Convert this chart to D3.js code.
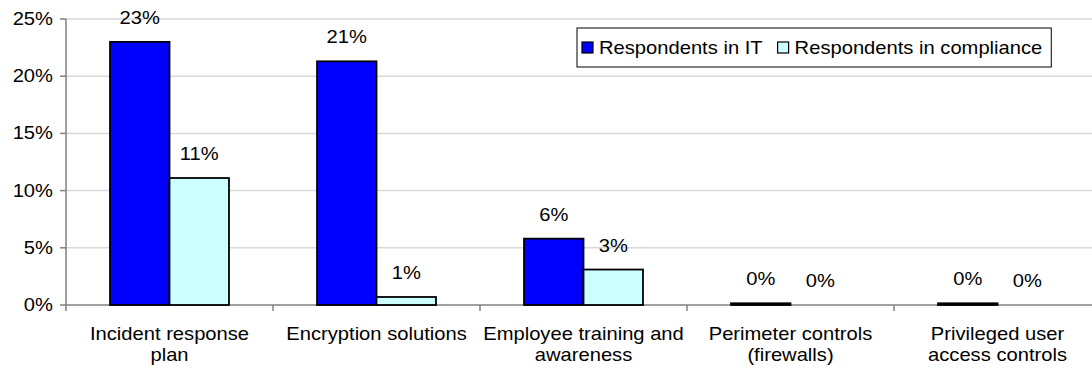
<!DOCTYPE html>
<html>
<head>
<meta charset="utf-8">
<script src="https://cdn.jsdelivr.net/npm/d3@7"></script>
<style>
  html, body { margin: 0; padding: 0; background: #fff; }
  svg { display: block; }
  text { font-family: "Liberation Sans", Arial, sans-serif; fill: #000; }
</style>
</head>
<body>
<svg id="chart" width="1092" height="373"></svg>
<script>
// Chart data
const categories = [
  "Incident response\nplan",
  "Encryption solutions",
  "Employee training and\nawareness",
  "Perimeter controls\n(firewalls)",
  "Privileged user\naccess controls"
];
const seriesNames = ["Respondents in IT", "Respondents in compliance"];
const itValues = [23.0, 21.3, 5.8, 0.15, 0.15];
const complianceValues = [11.1, 0.7, 3.1, 0, 0];
const yTicks = [0, 5, 10, 15, 20, 25];

const colors = ["#0000FF", "#CCFFFF"];
const FONT = 18;      // px
const SX = 1.12;      // horizontal text stretch

const svg = d3.select("#chart");
const plotLeft = 66, plotRight = 1101, plotTop = 19, plotBottom = 305;

const x = d3.scaleBand().domain(categories).range([plotLeft, plotRight]).padding(0);
const xs = d3.scaleBand().domain(seriesNames).range([0, x.bandwidth()])
  .paddingInner(0).paddingOuter(0.74);
const y = d3.scaleLinear().domain([0, 25]).range([plotBottom, plotTop]);

const series = [itValues, complianceValues];
const rows = categories.map((c, i) => ({ cat: c, vals: series.map((s, k) => ({ name: seriesNames[k], v: s[i], k })) }));

function place(sel, px, py) {
  return sel.attr("x", 0).attr("y", 0)
    .attr("transform", `translate(${px},${py}) scale(${SX},1)`);
}

// Gridlines
svg.append("g").selectAll("line").data(yTicks.filter(t => t > 0)).join("line")
  .attr("x1", plotLeft).attr("x2", plotRight)
  .attr("y1", d => y(d)).attr("y2", d => y(d))
  .attr("stroke", "#d9d9d9").attr("stroke-width", 1.5);

// Y axis
const yAxis = svg.append("g");
yAxis.append("line").attr("x1", plotLeft).attr("x2", plotLeft).attr("y1", plotTop).attr("y2", plotBottom)
  .attr("stroke", "#808080").attr("stroke-width", 1.5);
yAxis.selectAll("line.tick").data(yTicks).join("line").attr("class", "tick")
  .attr("x1", plotLeft - 6).attr("x2", plotLeft).attr("y1", d => y(d)).attr("y2", d => y(d))
  .attr("stroke", "#808080").attr("stroke-width", 1.5);
yAxis.selectAll("text").data(yTicks).join("text")
  .attr("text-anchor", "end").attr("font-size", FONT)
  .each(function (d) { place(d3.select(this), plotLeft - 13, y(d) + 6); })
  .text(d => d + "%");

// X axis baseline and category ticks
const xAxis = svg.append("g");
xAxis.append("line").attr("x1", plotLeft).attr("x2", plotRight).attr("y1", plotBottom).attr("y2", plotBottom)
  .attr("stroke", "#808080").attr("stroke-width", 1.5);
xAxis.selectAll("line.tick").data(categories.concat([null])).join("line").attr("class", "tick")
  .attr("x1", (d, i) => plotLeft + i * x.step()).attr("x2", (d, i) => plotLeft + i * x.step())
  .attr("y1", plotBottom).attr("y2", plotBottom + 6)
  .attr("stroke", "#808080").attr("stroke-width", 1.5);

// Bars
const groups = svg.append("g").selectAll("g").data(rows).join("g")
  .attr("transform", d => `translate(${x(d.cat)},0)`);
groups.selectAll("rect").data(d => d.vals.filter(v => v.v > 0)).join("rect")
  .attr("x", d => xs(d.name)).attr("width", xs.bandwidth())
  .attr("y", d => y(d.v)).attr("height", d => y(0) - y(d.v))
  .attr("fill", d => colors[d.k]).attr("stroke", "#000").attr("stroke-width", 1.8);

// Value labels
groups.selectAll("text").data(d => d.vals).join("text")
  .attr("text-anchor", "middle").attr("font-size", FONT)
  .each(function (d) { place(d3.select(this), xs(d.name) + xs.bandwidth() / 2, y(d.v) - 18); })
  .text(d => Math.round(d.v) + "%");

// Category labels
const catLabels = svg.append("g").selectAll("text").data(categories).join("text")
  .attr("text-anchor", "middle").attr("font-size", FONT)
  .each(function (d) { place(d3.select(this), x(d) + x.bandwidth() / 2, 340); });
catLabels.selectAll("tspan").data(d => d.split("\n")).join("tspan")
  .attr("x", 0).attr("dy", (d, i) => i === 0 ? 0 : 21).text(d => d);

// Legend
const legend = svg.append("g");
const box = legend.append("rect").attr("y", 28).attr("height", 39)
  .attr("fill", "#fff").attr("stroke", "#000").attr("stroke-width", 1);
let lx = 582;
seriesNames.forEach((name, k) => {
  legend.append("rect").attr("x", lx).attr("y", 42).attr("width", 11).attr("height", 11)
    .attr("fill", colors[k]).attr("stroke", "#000").attr("stroke-width", 1.2);
  lx += 17;
  const t = legend.append("text").attr("font-size", FONT).text(name);
  place(t, lx, 54);
  lx += t.node().getComputedTextLength() * SX + 15;
});
box.attr("x", 577).attr("width", lx - 6 - 577);
</script>
</body>
</html>
